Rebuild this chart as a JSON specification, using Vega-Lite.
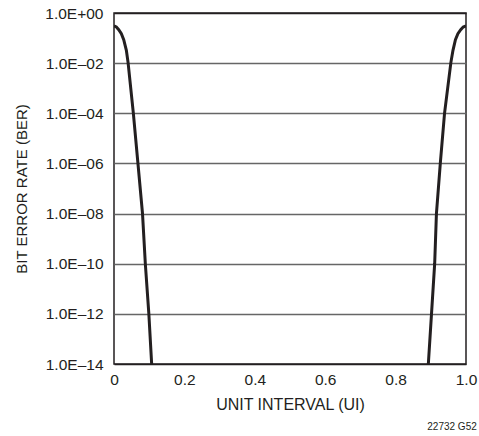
{
  "$schema": "https://vega.github.io/schema/vega-lite/v6.json",
  "autosize": {"type": "none"},
  "width": 352,
  "height": 351,
  "padding": {"left": 114, "top": 13, "right": 13, "bottom": 72},
  "background": "white",
  "config": {
    "font": "Liberation Sans",
    "view": {"stroke": "#231f20", "strokeWidth": 1.5},
    "axis": {"labelFont": "Liberation Sans", "titleFont": "Liberation Sans", "labelColor": "#231f20", "titleColor": "#231f20", "labelFontSize": 15.5, "titleFontSize": 15, "titleFontWeight": "normal", "ticks": false, "tickSize": 0, "domain": false}
  },
  "title": {"text": "22732 G52", "orient": "bottom", "anchor": "end", "fontSize": 10, "fontWeight": "normal", "color": "#231f20", "offset": 9, "font": "Liberation Sans"},
  "data": {"values": [
    {"side": "L", "ui": 0.0, "ber": 0.304},
    {"side": "L", "ui": 0.0067, "ber": 0.277},
    {"side": "L", "ui": 0.0134, "ber": 0.217},
    {"side": "L", "ui": 0.0209, "ber": 0.15},
    {"side": "L", "ui": 0.0276, "ber": 0.0867},
    {"side": "L", "ui": 0.0351, "ber": 0.0325},
    {"side": "L", "ui": 0.040, "ber": 0.0105},
    {"side": "L", "ui": 0.055, "ber": 1e-4},
    {"side": "L", "ui": 0.068, "ber": 1e-6},
    {"side": "L", "ui": 0.081, "ber": 1e-8},
    {"side": "L", "ui": 0.089, "ber": 1e-10},
    {"side": "L", "ui": 0.099, "ber": 1e-12},
    {"side": "L", "ui": 0.107, "ber": 1e-14},
    {"side": "R", "ui": 0.893, "ber": 1e-14},
    {"side": "R", "ui": 0.902, "ber": 1e-12},
    {"side": "R", "ui": 0.911, "ber": 1e-10},
    {"side": "R", "ui": 0.916, "ber": 1e-8},
    {"side": "R", "ui": 0.927, "ber": 1e-6},
    {"side": "R", "ui": 0.939, "ber": 1e-4},
    {"side": "R", "ui": 0.957, "ber": 0.0105},
    {"side": "R", "ui": 0.963, "ber": 0.0325},
    {"side": "R", "ui": 0.970, "ber": 0.0867},
    {"side": "R", "ui": 0.977, "ber": 0.15},
    {"side": "R", "ui": 0.985, "ber": 0.217},
    {"side": "R", "ui": 0.992, "ber": 0.277},
    {"side": "R", "ui": 1.0, "ber": 0.304}
  ]},
  "mark": {"type": "line", "color": "#231f20", "strokeWidth": 3, "clip": true},
  "encoding": {
    "detail": {"field": "side"},
    "x": {"field": "ui", "type": "quantitative", "scale": {"domain": [0, 1], "nice": false},
      "axis": {"title": "UNIT INTERVAL (UI)", "titleFontSize": 16, "values": [0, 0.2, 0.4, 0.6, 0.8, 1], "grid": false, "labelPadding": 8, "titlePadding": 9,
        "labelExpr": "datum.value == 0 ? '0' : format(datum.value, '.1f')", "labelFlush": false}},
    "y": {"field": "ber", "type": "quantitative", "scale": {"type": "log", "domain": [1e-14, 1], "nice": false},
      "axis": {"title": "BIT ERROR RATE (BER)", "values": [1, 1e-2, 1e-4, 1e-6, 1e-8, 1e-10, 1e-12, 1e-14], "grid": true,
        "gridColor": {"condition": {"test": "datum.value >= 0.5 || datum.value < 1e-13", "value": "#231f20"}, "value": "#666666"},
        "gridWidth": 1.5, "gridOpacity": 1, "labelPadding": 11, "titlePadding": 15,
        "labelExpr": "datum.value >= 0.5 ? '1.0E+00' : '1.0E–' + (round(-log(datum.value)/LN10) < 10 ? '0' : '') + round(-log(datum.value)/LN10)"}}
  }
}
